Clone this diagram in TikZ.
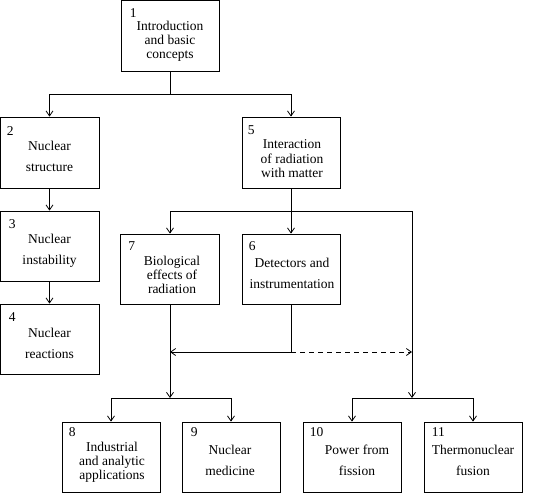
\documentclass[tikz,border=0pt]{standalone}
\usepackage{fontspec}
\setmainfont{Liberation Serif}
\usetikzlibrary{arrows.meta,calc}
\begin{document}
\begin{tikzpicture}[x=1pt,y=-1pt,
  box/.style={draw,line width=0.8pt,minimum width=98pt,minimum height=70pt,inner sep=0pt},
  txt/.style={font=\fontsize{13.5}{14}\selectfont,align=center,inner sep=0pt},
  num/.style={font=\fontsize{13.5}{14}\selectfont,inner sep=0pt,anchor=north west},
  conn/.style={line width=0.8pt},
  arr/.style={conn,-{Straight Barb[length=5pt,width=7pt]}},
  dsh/.style={arr,dash pattern=on 5pt off 4pt}]
\useasboundingbox (0,0) rectangle (550,493);
% boxes
\node[box,minimum height=71pt] (b1) at (170,36) {};
\node[box,minimum height=71pt,minimum width=99pt] (b2) at (49.5,152.5) {};
\node[box,minimum height=71pt] (b5) at (291,152.5) {};
\node[box,minimum width=99pt] (b3) at (49.5,246) {};
\node[box,minimum width=99pt] (b4) at (49.5,339) {};
\node[box,minimum width=99pt] (b7) at (170,269) {};
\node[box] (b6) at (291,269) {};
\node[box] (b8) at (111,457) {};
\node[box] (b9) at (231,457) {};
\node[box] (b10) at (352,457) {};
\node[box] (b11) at (473,457) {};
% numbers
\node[num] (n1) at ($(b1.north west)+(9,8)$) {1};
\node[num] (n2) at ($(b2.north west)+(7,9.5)$) {2};
\node[num] (n5) at ($(b5.north west)+(6,9)$) {5};
\node[num] (n3) at ($(b3.north west)+(9,9)$) {3};
\node[num] (n4) at ($(b4.north west)+(9,9)$) {4};
\node[num] (n7) at ($(b7.north west)+(8,8)$) {7};
\node[num] (n6) at ($(b6.north west)+(7,8)$) {6};
\node[num] (n8) at ($(b8.north west)+(7,6)$) {8};
\node[num] (n9) at ($(b9.north west)+(9,6)$) {9};
\node[num] (n10) at ($(b10.north west)+(7,6)$) {10};
\node[num] (n11) at ($(b11.north west)+(8,6)$) {11};
% texts
\node[txt] (t1) at (170,41.5) {Introduction\\and basic\\concepts};
\node[txt] (t2) at (49.5,156.5) {Nuclear\\[7pt]structure};
\node[txt] (t5) at (292,159) {Interaction\\[1pt]of radiation\\with matter};
\node[txt] (t3) at (49.5,250.5) {Nuclear\\[7pt]instability};
\node[txt] (t4) at (49.5,343.5) {Nuclear\\[7pt]reactions};
\node[txt] (t7) at (172,275) {Biological\\effects of\\radiation};
\node[txt] (t6) at (292,273.5) {Detectors and\\[7pt]instrumentation};
\node[txt] (t8) at (112,462) {Industrial\\and analytic\\applications};
\node[txt] (t9) at (230,460.5) {Nuclear\\[7pt]medicine};
\node[txt] (t10) at (357,460.5) {Power from\\[7pt]fission};
\node[txt] (t11) at (473,460.5) {Thermonuclear\\[7pt]fusion};
% junctions
\coordinate (j1) at (170,94);
\coordinate (j2) at (291,211);
\coordinate (j4) at (170,398);
\coordinate (j5) at (412,398);
\coordinate (j6) at (291,352);
\coordinate (m7) at (170,352);
\coordinate (m10) at (412,352);
% connectors
\draw[conn] (b1) -- (j1);
\draw[arr] (j1) -| (b2);
\draw[arr] (j1) -| (b5);
\draw[arr] (b2) -- (b3);
\draw[arr] (b3) -- (b4);
\draw[arr] (b5) -- (b6);
\draw[arr] (j2) -| (b7);
\draw[arr] (j2) -| (j5);
\draw[arr] (b7) -- (j4);
\draw[conn] (b6) -- (j6);
\draw[arr] (j6) -- (m7);
\draw[dsh] (j6) -- (m10);
\draw[arr] (j4) -| (b8);
\draw[arr] (j4) -| (b9);
\draw[arr] (j5) -| (b10);
\draw[arr] (j5) -| (b11);
\end{tikzpicture}
\end{document}
